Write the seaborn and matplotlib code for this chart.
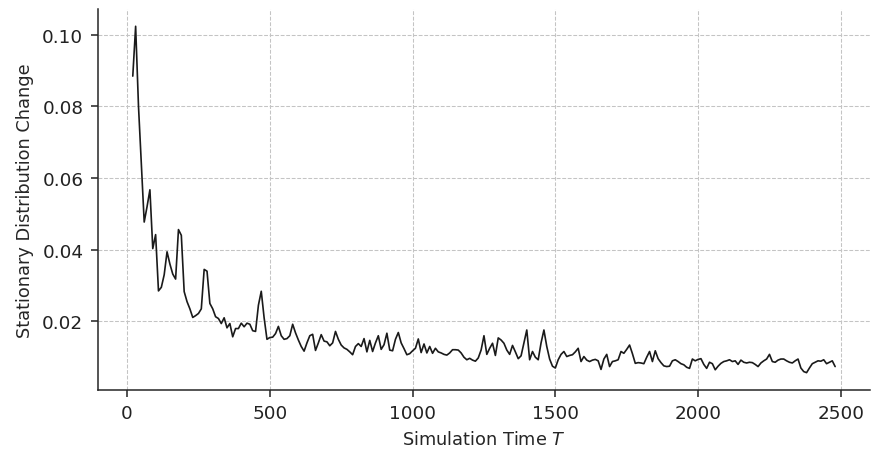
import matplotlib
matplotlib.use("Agg")
import matplotlib.pyplot as plt
import seaborn as sns
import numpy as np
import pandas as pd

# simulation times (every 10 steps, 20 .. 2480)
sim_time = list(range(20, 2490, 10))

# change of the stationary distribution
change = [
    0.0884, 0.1023, 0.0800, 0.0640, 0.0477, 0.0520, 0.0567, 0.0403,
    0.0442, 0.0285, 0.0295, 0.0330, 0.0394, 0.0360, 0.0332, 0.0318, 0.0456, 0.0440,
    0.0283, 0.0255, 0.0235, 0.0211, 0.0216, 0.0222, 0.0235, 0.0345, 0.0340, 0.0250,
    0.0235, 0.0213, 0.0208, 0.0194, 0.0210, 0.0182, 0.0194, 0.0157, 0.0180, 0.0180,
    0.0195, 0.0185, 0.0195, 0.0192, 0.0174, 0.0172, 0.0245, 0.0284, 0.0210, 0.0150,
    0.0155, 0.0156, 0.0166, 0.0186, 0.0160, 0.0150, 0.0152, 0.0160, 0.0192, 0.0168,
    0.0148, 0.0130, 0.0117, 0.0140, 0.0160, 0.0164, 0.0119, 0.0140, 0.0163, 0.0145,
    0.0143, 0.0132, 0.0140, 0.0172, 0.0150, 0.0134, 0.0126, 0.0122, 0.0115, 0.0107,
    0.0130, 0.0138, 0.0130, 0.0152, 0.0115, 0.0147, 0.0116, 0.0140, 0.0160, 0.0122,
    0.0135, 0.0167, 0.0120, 0.0118, 0.0150, 0.0169, 0.0140, 0.0124, 0.0107, 0.0110,
    0.0118, 0.0125, 0.0151, 0.0113, 0.0137, 0.0112, 0.0130, 0.0111, 0.0125, 0.0115,
    0.0112, 0.0108, 0.0106, 0.0112, 0.0121, 0.0121, 0.0120, 0.0112, 0.0100, 0.0093,
    0.0097, 0.0092, 0.0089, 0.0098, 0.0120, 0.0160, 0.0108, 0.0125, 0.0139, 0.0105,
    0.0154, 0.0148, 0.0139, 0.0120, 0.0108, 0.0133, 0.0115, 0.0096, 0.0104, 0.0140,
    0.0176, 0.0093, 0.0116, 0.0100, 0.0093, 0.0140, 0.0176, 0.0130, 0.0095, 0.0075,
    0.0070, 0.0093, 0.0108, 0.0116, 0.0102, 0.0105, 0.0107, 0.0115, 0.0125, 0.0088,
    0.0102, 0.0092, 0.0088, 0.0092, 0.0094, 0.0090, 0.0066, 0.0095, 0.0108, 0.0074,
    0.0088, 0.0090, 0.0093, 0.0116, 0.0111, 0.0122, 0.0134, 0.0110, 0.0083, 0.0085,
    0.0084, 0.0082, 0.0100, 0.0116, 0.0088, 0.0118, 0.0096, 0.0085, 0.0076, 0.0074,
    0.0075, 0.0090, 0.0093, 0.0088, 0.0082, 0.0079, 0.0072, 0.0069, 0.0095, 0.0090,
    0.0094, 0.0096, 0.0080, 0.0069, 0.0086, 0.0082, 0.0065, 0.0075, 0.0083, 0.0088,
    0.0090, 0.0093, 0.0088, 0.0090, 0.0080, 0.0092, 0.0086, 0.0084, 0.0086, 0.0085,
    0.0080, 0.0074, 0.0084, 0.0090, 0.0095, 0.0108, 0.0088, 0.0086, 0.0092, 0.0095,
    0.0095, 0.0090, 0.0086, 0.0084, 0.0090, 0.0095, 0.0070, 0.0060, 0.0057, 0.0070,
    0.0082, 0.0086, 0.0090, 0.0089, 0.0093, 0.0082, 0.0086, 0.0090, 0.0074,
]

df = pd.DataFrame({'T': sim_time, 'change': change})

sns.set_style('ticks')
plt.rcParams['font.family'] = ['DejaVu Sans']

fig, ax = plt.subplots(figsize=(8.72, 4.52), dpi=100)

sns.lineplot(data=df, x='T', y='change', color='#1a1a1a', linewidth=1.2,
             estimator=None, ax=ax)

ax.grid(True, linestyle='--', color='#c4c4c4', linewidth=0.75)
ax.set_axisbelow(True)
ax.set_xticks([0, 500, 1000, 1500, 2000, 2500])
ax.set_yticks([0.02, 0.04, 0.06, 0.08, 0.10])
ax.set_yticklabels(['0.02', '0.04', '0.06', '0.08', '0.10'])
ax.tick_params(labelsize=13.2, colors='#222222', length=4.8, width=1.1, pad=5.5)
ax.set_xlabel('Simulation Time $T$', fontsize=12.8, labelpad=5.5)
ax.set_ylabel('Stationary Distribution Change', fontsize=12.8, labelpad=6)
for sp in ['left', 'bottom']:
    ax.spines[sp].set_linewidth(1.1)
sns.despine(ax=ax)

plt.subplots_adjust(left=0.112, right=0.998, bottom=0.135, top=0.978)
plt.savefig('out.png', dpi=100)
